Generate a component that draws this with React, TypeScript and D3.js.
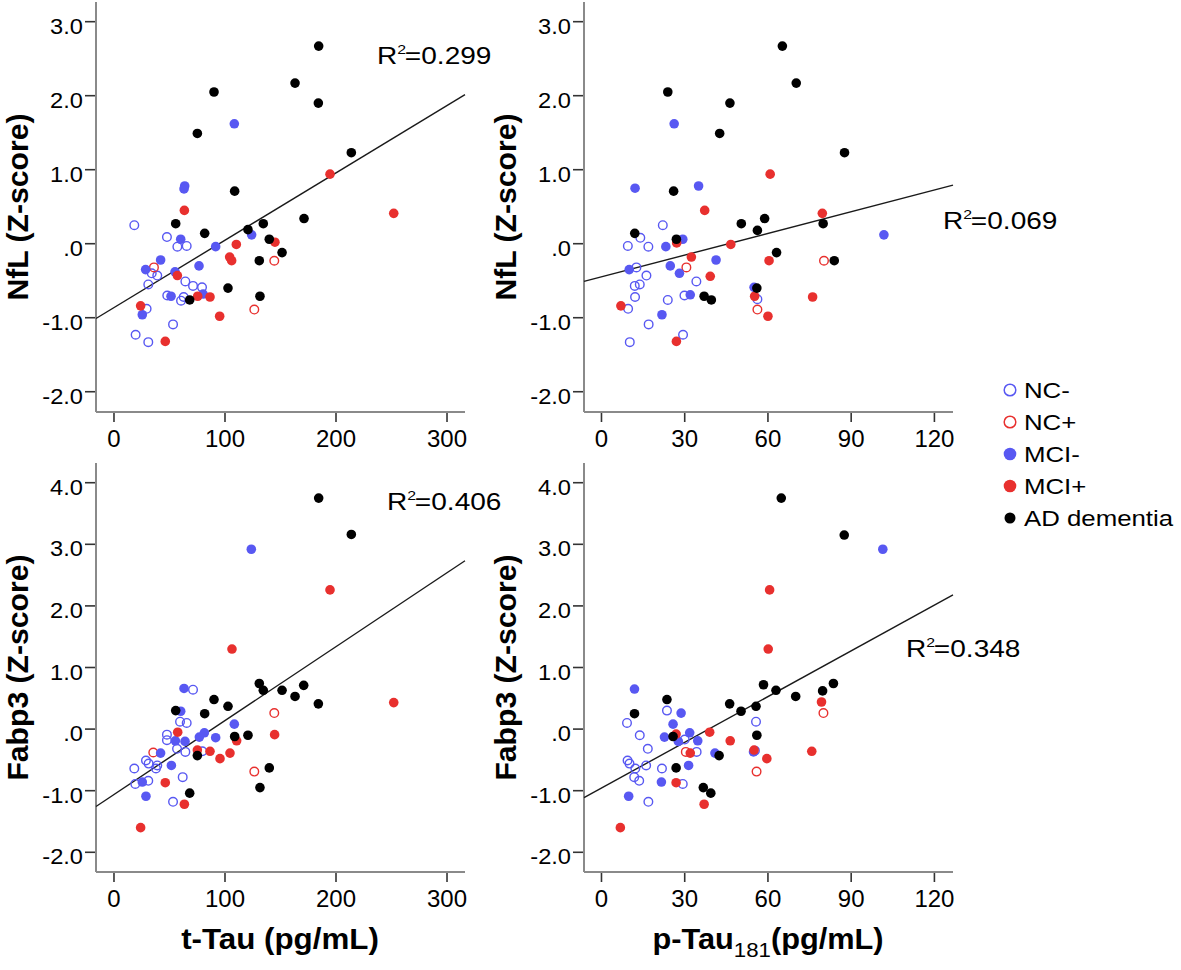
import React from "react";
import * as d3 from "d3";

type G = "NC-" | "NC+" | "MCI-" | "MCI+" | "AD";
type P = [number, number, G];

// Legend categories
const legendGroups: G[] = ["NC-", "NC+", "MCI-", "MCI+", "AD"];
const legendLabels = ["NC-", "NC+", "MCI-", "MCI+", "AD dementia"];

// Axis ticks
const tTauTicks = [0, 100, 200, 300];
const pTauTicks = [0, 30, 60, 90, 120];
const nflTicks = [-2, -1, 0, 1, 2, 3];
const fabpTicks = [-2, -1, 0, 1, 2, 3, 4];

// Panel A: t-Tau vs NfL
const tTauNfl: P[] = [
  [18.3,0.25,"NC-"],[47.7,0.09,"NC-"],[57.1,-0.04,"NC-"],[65.5,-0.03,"NC-"],[39.0,-0.43,"NC-"],[30.9,-0.55,"NC-"],[64.3,-0.51,"NC-"],[71.2,-0.57,"NC-"],[79.3,-0.59,"NC-"],[48.0,-0.70,"NC-"],[60.4,-0.77,"NC-"],[62.8,-0.72,"NC-"],[29.4,-0.88,"NC-"],[53.2,-1.09,"NC-"],[19.5,-1.23,"NC-"],[30.9,-1.33,"NC-"],[34.0,-0.40,"NC-"],
  [36.0,-0.32,"NC+"],[144.4,-0.23,"NC+"],[126.4,-0.89,"NC+"],
  [108.4,1.62,"MCI-"],[63.7,0.78,"MCI-"],[63.1,0.74,"MCI-"],[60.1,0.06,"MCI-"],[124.0,0.12,"MCI-"],[91.6,-0.04,"MCI-"],[42.0,-0.22,"MCI-"],[28.5,-0.35,"MCI-"],[76.6,-0.30,"MCI-"],[55.0,-0.38,"MCI-"],[51.4,-0.71,"MCI-"],[25.5,-0.96,"MCI-"],[80.3,-0.68,"MCI-"],
  [194.6,0.94,"MCI+"],[252.0,0.41,"MCI+"],[63.4,0.45,"MCI+"],[110.2,-0.01,"MCI+"],[145.0,0.02,"MCI+"],[104.2,-0.18,"MCI+"],[106.0,-0.23,"MCI+"],[57.1,-0.43,"MCI+"],[75.4,-0.71,"MCI+"],[86.5,-0.72,"MCI+"],[95.2,-0.98,"MCI+"],[24.0,-0.84,"MCI+"],[46.2,-1.32,"MCI+"],
  [184.4,2.67,"AD"],[163.1,2.17,"AD"],[184.1,1.90,"AD"],[90.1,2.05,"AD"],[75.1,1.49,"AD"],[213.8,1.23,"AD"],[108.7,0.71,"AD"],[55.6,0.27,"AD"],[171.2,0.34,"AD"],[134.5,0.27,"AD"],[81.7,0.14,"AD"],[120.7,0.19,"AD"],[139.9,0.06,"AD"],[151.4,-0.12,"AD"],[130.9,-0.23,"AD"],[102.7,-0.60,"AD"],[68.2,-0.76,"AD"],[131.5,-0.71,"AD"],
];

// Panel B: p-Tau181 vs NfL
const pTauNfl: P[] = [
  [22.1,0.25,"NC-"],[14.0,0.08,"NC-"],[9.5,-0.03,"NC-"],[16.9,-0.04,"NC-"],[12.6,-0.32,"NC-"],[16.2,-0.43,"NC-"],[12.0,-0.57,"NC-"],[13.8,-0.55,"NC-"],[34.2,-0.51,"NC-"],[12.1,-0.72,"NC-"],[23.9,-0.76,"NC-"],[29.9,-0.70,"NC-"],[9.6,-0.88,"NC-"],[17.0,-1.09,"NC-"],[29.4,-1.23,"NC-"],[10.2,-1.33,"NC-"],[56.2,-0.75,"NC-"],
  [30.6,-0.32,"NC+"],[80.2,-0.23,"NC+"],[56.2,-0.89,"NC+"],
  [26.2,1.62,"MCI-"],[12.1,0.75,"MCI-"],[35.0,0.78,"MCI-"],[29.3,0.06,"MCI-"],[23.2,-0.04,"MCI-"],[101.8,0.12,"MCI-"],[41.3,-0.22,"MCI-"],[10.0,-0.35,"MCI-"],[24.8,-0.30,"MCI-"],[28.1,-0.40,"MCI-"],[32.0,-0.69,"MCI-"],[21.8,-0.96,"MCI-"],[55.0,-0.59,"MCI-"],
  [60.8,0.94,"MCI+"],[37.2,0.45,"MCI+"],[79.6,0.41,"MCI+"],[27.1,0.01,"MCI+"],[46.6,-0.01,"MCI+"],[32.4,-0.18,"MCI+"],[60.4,-0.23,"MCI+"],[39.2,-0.44,"MCI+"],[55.2,-0.71,"MCI+"],[76.1,-0.72,"MCI+"],[7.0,-0.84,"MCI+"],[60.0,-0.98,"MCI+"],[27.0,-1.32,"MCI+"],
  [65.2,2.67,"AD"],[70.2,2.17,"AD"],[23.9,2.05,"AD"],[46.3,1.90,"AD"],[42.6,1.49,"AD"],[87.6,1.23,"AD"],[26.0,0.71,"AD"],[12.0,0.14,"AD"],[27.0,0.06,"AD"],[50.4,0.27,"AD"],[58.8,0.34,"AD"],[56.2,0.18,"AD"],[79.9,0.27,"AD"],[63.1,-0.12,"AD"],[83.9,-0.23,"AD"],[56.0,-0.60,"AD"],[37.0,-0.71,"AD"],[39.6,-0.76,"AD"],
];

// Panel C: t-Tau vs Fabp3
const tTauFabp: P[] = [
  [71.2,0.64,"NC-"],[59.5,0.12,"NC-"],[65.5,0.10,"NC-"],[47.7,-0.09,"NC-"],[47.7,-0.18,"NC-"],[56.8,-0.32,"NC-"],[64.3,-0.37,"NC-"],[79.6,-0.36,"NC-"],[28.8,-0.51,"NC-"],[31.2,-0.56,"NC-"],[39.0,-0.59,"NC-"],[37.8,-0.64,"NC-"],[18.3,-0.64,"NC-"],[30.9,-0.84,"NC-"],[19.2,-0.89,"NC-"],[61.9,-0.78,"NC-"],[53.2,-1.18,"NC-"],
  [35.4,-0.38,"NC+"],[144.4,0.26,"NC+"],[126.4,-0.69,"NC+"],
  [123.7,2.92,"MCI-"],[63.1,0.66,"MCI-"],[60.1,0.29,"MCI-"],[108.4,0.08,"MCI-"],[91.6,-0.14,"MCI-"],[76.9,-0.13,"MCI-"],[81.4,-0.06,"MCI-"],[64.0,-0.20,"MCI-"],[55.3,-0.19,"MCI-"],[42.0,-0.39,"MCI-"],[51.7,-0.59,"MCI-"],[25.5,-0.86,"MCI-"],[28.8,-1.09,"MCI-"],
  [194.6,2.26,"MCI+"],[106.3,1.30,"MCI+"],[252.0,0.43,"MCI+"],[57.4,-0.05,"MCI+"],[144.7,-0.09,"MCI+"],[110.5,-0.19,"MCI+"],[75.1,-0.34,"MCI+"],[86.5,-0.36,"MCI+"],[95.5,-0.48,"MCI+"],[104.5,-0.39,"MCI+"],[46.2,-0.87,"MCI+"],[63.4,-1.22,"MCI+"],[24.0,-1.60,"MCI+"],
  [184.4,3.75,"AD"],[213.8,3.16,"AD"],[130.9,0.74,"AD"],[134.5,0.63,"AD"],[151.4,0.63,"AD"],[170.9,0.71,"AD"],[163.1,0.53,"AD"],[184.1,0.41,"AD"],[90.1,0.48,"AD"],[102.7,0.37,"AD"],[81.7,0.25,"AD"],[55.6,0.30,"AD"],[108.7,-0.12,"AD"],[120.7,-0.10,"AD"],[75.1,-0.43,"AD"],[139.9,-0.63,"AD"],[131.5,-0.95,"AD"],[68.2,-1.04,"AD"],
];

// Panel D: p-Tau181 vs Fabp3
const pTauFabp: P[] = [
  [23.6,0.30,"NC-"],[55.7,0.12,"NC-"],[9.2,0.10,"NC-"],[13.8,-0.10,"NC-"],[16.7,-0.32,"NC-"],[30.0,-0.17,"NC-"],[34.3,-0.37,"NC-"],[9.4,-0.51,"NC-"],[10.1,-0.56,"NC-"],[12.2,-0.64,"NC-"],[16.1,-0.59,"NC-"],[21.8,-0.64,"NC-"],[11.8,-0.78,"NC-"],[13.6,-0.84,"NC-"],[29.3,-0.89,"NC-"],[16.9,-1.18,"NC-"],[55.3,-0.35,"NC-"],
  [80.0,0.26,"NC+"],[30.4,-0.37,"NC+"],[55.9,-0.69,"NC+"],
  [101.4,2.92,"MCI-"],[11.9,0.65,"MCI-"],[28.7,0.26,"MCI-"],[25.8,0.08,"MCI-"],[31.8,-0.06,"MCI-"],[22.7,-0.13,"MCI-"],[27.7,-0.20,"MCI-"],[34.7,-0.19,"MCI-"],[40.9,-0.39,"MCI-"],[31.4,-0.59,"MCI-"],[21.6,-0.86,"MCI-"],[9.8,-1.09,"MCI-"],[54.8,-0.37,"MCI-"],
  [60.6,2.26,"MCI+"],[60.1,1.30,"MCI+"],[79.3,0.44,"MCI+"],[39.0,-0.05,"MCI+"],[46.4,-0.19,"MCI+"],[55.0,-0.34,"MCI+"],[59.6,-0.48,"MCI+"],[75.8,-0.36,"MCI+"],[26.9,-0.08,"MCI+"],[32.0,-0.39,"MCI+"],[26.9,-0.87,"MCI+"],[37.0,-1.22,"MCI+"],[6.8,-1.60,"MCI+"],
  [64.8,3.75,"AD"],[87.5,3.15,"AD"],[58.4,0.72,"AD"],[62.9,0.63,"AD"],[70.0,0.53,"AD"],[79.7,0.62,"AD"],[83.6,0.74,"AD"],[46.2,0.41,"AD"],[50.3,0.29,"AD"],[55.7,0.37,"AD"],[23.6,0.48,"AD"],[11.9,0.25,"AD"],[25.8,-0.12,"AD"],[56.0,-0.10,"AD"],[42.4,-0.43,"AD"],[26.9,-0.63,"AD"],[36.7,-0.95,"AD"],[39.4,-1.04,"AD"],
];

// Fit lines (intercept, slope) and R² labels
const fitIntercepts = [-0.863, -0.447, -1.062, -0.957];
const fitSlopes = [0.0091, 0.00977, 0.012, 0.02474];
const r2Labels = ["0.299", "0.069", "0.406", "0.348"];

const FONT = "'Liberation Sans', Arial, Helvetica, sans-serif";
const BLUE = "#5858f2";
const RED = "#e8302e";
const BLACK = "#000000";

const styleOf = (g: G) => {
  switch (g) {
    case "NC-": return { fill: "white", stroke: BLUE, open: true };
    case "NC+": return { fill: "white", stroke: RED, open: true };
    case "MCI-": return { fill: BLUE, stroke: "none", open: false };
    case "MCI+": return { fill: RED, stroke: "none", open: false };
    default: return { fill: BLACK, stroke: "none", open: false };
  }
};
const order: Record<G, number> = { "NC-": 0, "NC+": 1, "MCI-": 2, "MCI+": 3, AD: 4 };

const fmtY = (v: number) => (v === 0 ? ".0" : v.toFixed(1));

function SText({ x, y, sx = 1, rotate = 0, anchor = "start", size, weight = "normal", children }: any) {
  return (
    <g transform={`translate(${x},${y}) rotate(${rotate}) scale(${sx},1)`}>
      <text x={0} y={0} textAnchor={anchor} fontSize={size} fontWeight={weight} fontFamily={FONT} fill="#000">
        {children}
      </text>
    </g>
  );
}

interface PanelCfg {
  data: P[];
  xDomain: [number, number];
  xRange: [number, number];
  yDomain: [number, number];
  yRange: [number, number];
  xTicks: number[];
  yTicks: number[];
  idx: number;
  r2x: number;
  r2y: number;
  yTitle: string;
}

function Panel({ cfg }: { cfg: PanelCfg }) {
  const x = d3.scaleLinear().domain(cfg.xDomain).range(cfg.xRange);
  const y = d3.scaleLinear().domain(cfg.yDomain).range(cfg.yRange);
  const [x0, x1] = cfg.xRange;
  const [yb, yt] = cfg.yRange;
  const b = fitIntercepts[cfg.idx];
  const m = fitSlopes[cfg.idx];
  const line = d3.line<number>().x((d) => x(d)).y((d) => y(b + m * d));
  const pts = [...cfg.data].sort((a, c) => order[a[2]] - order[c[2]]);
  return (
    <g>
      {/* y ticks and labels */}
      {cfg.yTicks.map((t) => (
        <g key={"y" + t}>
          <line x1={x0 - 11} x2={x0} y1={y(t)} y2={y(t)} stroke="#333" strokeWidth={1.6} />
          <SText x={x0 - 13} y={y(t) + 12} anchor="end" size={21.5} sx={1.1}>{fmtY(t)}</SText>
        </g>
      ))}
      {/* x ticks and labels */}
      {cfg.xTicks.map((t) => (
        <g key={"x" + t}>
          <line x1={x(t)} x2={x(t)} y1={yb} y2={yb + 10} stroke="#333" strokeWidth={1.6} />
          <SText x={x(t)} y={yb + 35} anchor="middle" size={24}>{String(t)}</SText>
        </g>
      ))}
      {/* axis lines */}
      <line x1={x0} x2={x0} y1={yt} y2={yb} stroke="#8a8a8a" strokeWidth={2} />
      <line x1={x0} x2={x1} y1={yb} y2={yb} stroke="#8a8a8a" strokeWidth={2} />
      {/* fit line */}
      <path d={line([cfg.xDomain[0], cfg.xDomain[1]]) || ""} stroke="#1a1a1a" strokeWidth={1.4} fill="none" />
      {/* points */}
      {pts.map((p, i) => {
        const s = styleOf(p[2]);
        return s.open ? (
          <circle key={i} cx={x(p[0])} cy={y(p[1])} r={4.3} fill="none" stroke={s.stroke} strokeWidth={1.4} />
        ) : (
          <circle key={i} cx={x(p[0])} cy={y(p[1])} r={4.8} fill={s.fill} />
        );
      })}
      {/* R² label */}
      <g transform={`translate(${cfg.r2x},${cfg.r2y}) scale(1.22,1)`}>
        <text x={0} y={0} fontSize={23} fontFamily={FONT} fill="#000">
          R
          <tspan dy={-10} fontSize={13}>2</tspan>
          <tspan dy={10} dx={-1}>={r2Labels[cfg.idx]}</tspan>
        </text>
      </g>
      {/* y title */}
      <SText x={x0 - 68} y={(yt + yb) / 2} rotate={-90} anchor="middle" size={29} weight="bold" sx={1.04}>
        {cfg.yTitle}
      </SText>
    </g>
  );
}

export default function App() {
  const leftX: [number, number] = [96, 465];
  const rightX: [number, number] = [584, 953];
  const tDom: [number, number] = [-16.2, 316.2];
  const pDom: [number, number] = [-6.3, 126.7];
  const topYR: [number, number] = [412, 2];
  const botYR: [number, number] = [872, 463];
  const topYD: [number, number] = [-2.274, 3.266];
  const botYD: [number, number] = [-2.32, 4.32];

  const panels: PanelCfg[] = [
    { data: tTauNfl, xDomain: tDom, xRange: leftX, yDomain: topYD, yRange: topYR, xTicks: tTauTicks, yTicks: nflTicks, idx: 0, r2x: 377, r2y: 64, yTitle: "NfL (Z-score)" },
    { data: pTauNfl, xDomain: pDom, xRange: rightX, yDomain: topYD, yRange: topYR, xTicks: pTauTicks, yTicks: nflTicks, idx: 1, r2x: 943, r2y: 229, yTitle: "NfL (Z-score)" },
    { data: tTauFabp, xDomain: tDom, xRange: leftX, yDomain: botYD, yRange: botYR, xTicks: tTauTicks, yTicks: fabpTicks, idx: 2, r2x: 387, r2y: 510, yTitle: "Fabp3 (Z-score)" },
    { data: pTauFabp, xDomain: pDom, xRange: rightX, yDomain: botYD, yRange: botYR, xTicks: pTauTicks, yTicks: fabpTicks, idx: 3, r2x: 906, r2y: 657, yTitle: "Fabp3 (Z-score)" },
  ];

  const legendY0 = 390;
  const legendStep = 32;

  return (
    <svg width={1181} height={970} style={{ position: "absolute", left: 0, top: 0, background: "#fff" }}>
      <rect x={0} y={0} width={1181} height={970} fill="#fff" />
      {panels.map((p, i) => (
        <Panel key={i} cfg={p} />
      ))}
      {/* x titles */}
      <SText x={280} y={949} anchor="middle" size={29} weight="bold" sx={1.08}>t-Tau (pg/mL)</SText>
      <g transform={`translate(768,949) scale(1.06,1)`}>
        <text x={0} y={0} textAnchor="middle" fontSize={29} fontWeight="bold" fontFamily={FONT}>
          p-Tau
          <tspan fontSize={21} fontWeight="normal" dy={8}>181</tspan>
          <tspan dy={-8}>(pg/mL)</tspan>
        </text>
      </g>
      {/* legend */}
      {legendGroups.map((g, i) => {
        const s = styleOf(g);
        const cy = legendY0 + i * legendStep;
        return (
          <g key={g}>
            {s.open ? (
              <circle cx={1010} cy={cy} r={5.8} fill="none" stroke={s.stroke} strokeWidth={1.5} />
            ) : (
              <circle cx={1010} cy={cy} r={g === "AD" ? 5.5 : 6.3} fill={s.fill} />
            )}
            <SText x={1024} y={cy + 8} size={21.5} sx={1.2}>{legendLabels[i]}</SText>
          </g>
        );
      })}
    </svg>
  );
}
